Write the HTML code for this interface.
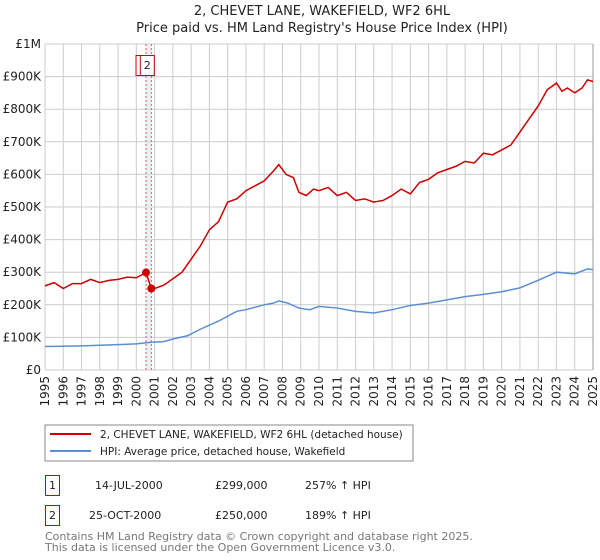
<!DOCTYPE html>
<html><head><meta charset="utf-8"><style>
body{margin:0;background:#fff;}
svg{display:block;font-family:"DejaVu Sans","Liberation Sans",sans-serif;}
</style></head><body>
<svg width="600" height="560" viewBox="0 0 600 560">
<text x="322" y="15" text-anchor="middle" font-size="13" fill="#222">2, CHEVET LANE, WAKEFIELD, WF2 6HL</text>
<text x="322" y="32" text-anchor="middle" font-size="13" fill="#222">Price paid vs. HM Land Registry's House Price Index (HPI)</text>
<g id="grid"></g>
<g id="axes"></g>
<g id="series"></g>
<rect x="45" y="425" width="368" height="36" fill="#fff" stroke="#888"/>
<line x1="50" y1="434" x2="91" y2="434" stroke="#cc0000" stroke-width="2"/>
<text x="100" y="438" font-size="10.5" fill="#222">2, CHEVET LANE, WAKEFIELD, WF2 6HL (detached house)</text>
<line x1="50" y1="451" x2="91" y2="451" stroke="#5b8fd4" stroke-width="2"/>
<text x="100" y="455" font-size="10.5" fill="#222">HPI: Average price, detached house, Wakefield</text>
<g font-size="11" fill="#222">
<rect x="45.5" y="475.5" width="14" height="20" fill="none" stroke="#cc0000"/>
<text x="52.5" y="489" text-anchor="middle">1</text>
<text x="95" y="489">14-JUL-2000</text>
<text x="215" y="489">£299,000</text>
<text x="305" y="489">257% ↑ HPI</text>
<rect x="45.5" y="505.5" width="14" height="20" fill="none" stroke="#cc0000"/>
<text x="52.5" y="519" text-anchor="middle">2</text>
<text x="89" y="519">25-OCT-2000</text>
<text x="215" y="519">£250,000</text>
<text x="305" y="519">189% ↑ HPI</text>
</g>
<text x="45" y="540" font-size="11" fill="#777">Contains HM Land Registry data © Crown copyright and database right 2025.</text>
<text x="45" y="551" font-size="11" fill="#777">This data is licensed under the Open Government Licence v3.0.</text>
</svg>
<script>
const years=[1995,1996,1997,1998,1999,2000,2001,2002,2003,2004,2005,2006,2007,2008,2009,2010,2011,2012,2013,2014,2015,2016,2017,2018,2019,2020,2021,2022,2023,2024,2025];
const yTicks=[0,100000,200000,300000,400000,500000,600000,700000,800000,900000,1000000];
const yTickLabels=["£0","£100K","£200K","£300K","£400K","£500K","£600K","£700K","£800K","£900K","£1M"];
const redT=[1995,1995.5,1996,1996.5,1997,1997.5,1998,1998.5,1999,1999.5,2000,2000.53,2000.82,2001,2001.5,2002,2002.5,2003,2003.5,2004,2004.5,2005,2005.5,2006,2006.5,2007,2007.5,2007.8,2008.2,2008.6,2008.9,2009.3,2009.7,2010,2010.5,2011,2011.5,2012,2012.5,2013,2013.5,2014,2014.5,2015,2015.5,2016,2016.5,2017,2017.5,2018,2018.5,2019,2019.5,2020,2020.5,2021,2021.5,2022,2022.5,2023,2023.3,2023.6,2024,2024.4,2024.7,2025];
const redV=[258,268,250,265,265,278,268,275,278,285,283,299,250,250,260,280,300,340,380,430,455,515,525,550,565,580,610,630,600,590,545,535,555,550,560,535,545,520,525,515,520,535,555,540,575,585,605,615,625,640,635,665,660,675,690,730,770,810,860,880,855,865,850,865,890,885];
const blueT=[1995,1996,1997,1998,1999,2000,2000.8,2001.5,2002,2002.8,2003.5,2004.5,2005,2005.5,2006,2007,2007.5,2007.8,2008.3,2008.9,2009.5,2010,2011,2012,2013,2014,2015,2016,2017,2018,2019,2020,2021,2022,2023,2024,2024.7,2025];
const blueV=[72,73,74,76,78,80,85,87,95,105,125,150,165,180,185,200,205,212,205,190,185,195,190,180,175,185,198,205,215,225,232,240,252,275,300,295,310,308];
const saleT=[2000.53,2000.82];
const saleV=[299000,250000];
const L=45,R=593,T=44,B=370;
const X=t=>L+(t-1995)/(2025-1995)*(R-L);
const Y=v=>B-v/1000000*(B-T);
const NS="http://www.w3.org/2000/svg";
function mk(tag,attrs,parent){const e=document.createElementNS(NS,tag);for(const k in attrs)e.setAttribute(k,attrs[k]);parent.appendChild(e);return e;}
const grid=document.getElementById('grid'),axes=document.getElementById('axes'),series=document.getElementById('series');
yTicks.forEach((v,i)=>{
 const l=mk('line',{x1:L,x2:R,y1:Y(v),y2:Y(v),stroke:'#ccc','stroke-width':1},grid);
 
 
 const t=mk('text',{x:L-4,y:Y(v)+4,'text-anchor':'end','font-size':12,fill:'#222'},axes);
 t.textContent=yTickLabels[i];
 
 
});
years.forEach(y=>{
 const l=mk('line',{x1:X(y),x2:X(y),y1:T,y2:B,stroke:'#ccc','stroke-width':1},grid);
 
 
 const t=mk('text',{x:0,y:0,'text-anchor':'end','font-size':12,fill:'#222',transform:`translate(${X(y)+4},${B+6}) rotate(-90)`},axes);
 t.textContent=y;
 
 
});
const band=mk('rect',{x:X(saleT[0]),y:T,width:X(saleT[1])-X(saleT[0]),height:B-T,fill:'#dde8f7',opacity:0.6},series);


saleT.forEach((t,i)=>{
 const l=mk('line',{x1:X(t),x2:X(t),y1:T,y2:B,stroke:'#ee5555','stroke-width':1,'stroke-dasharray':'2,2'},series);
 
 
});
const bp=mk('polyline',{points:blueT.map((t,i)=>X(t)+','+Y(blueV[i]*1000)).join(' '),fill:'none',stroke:'#5b8fd4','stroke-width':1.5},series);


const rp=mk('polyline',{points:redT.map((t,i)=>X(t)+','+Y(redV[i]*1000)).join(' '),fill:'none',stroke:'#cc0000','stroke-width':1.5},series);


saleT.forEach((t,i)=>{
 const c=mk('circle',{cx:X(t),cy:Y(saleV[i]),r:4,fill:'#cc0000'},series);
 
 
 const bx=X(t)-(i===0?10:11);
 const r=mk('rect',{x:bx,y:55.5,width:14,height:20,fill:'#fff',stroke:'#cc0000'},series);
 
 
 const tx=mk('text',{x:bx+7,y:69,'text-anchor':'middle','font-size':11,fill:'#222'},series);
 tx.textContent=String(i+1);
 
 
});
const ax=mk('line',{x1:R,x2:R,y1:T,y2:B,stroke:'#999'},axes);


</script>
</body></html>
